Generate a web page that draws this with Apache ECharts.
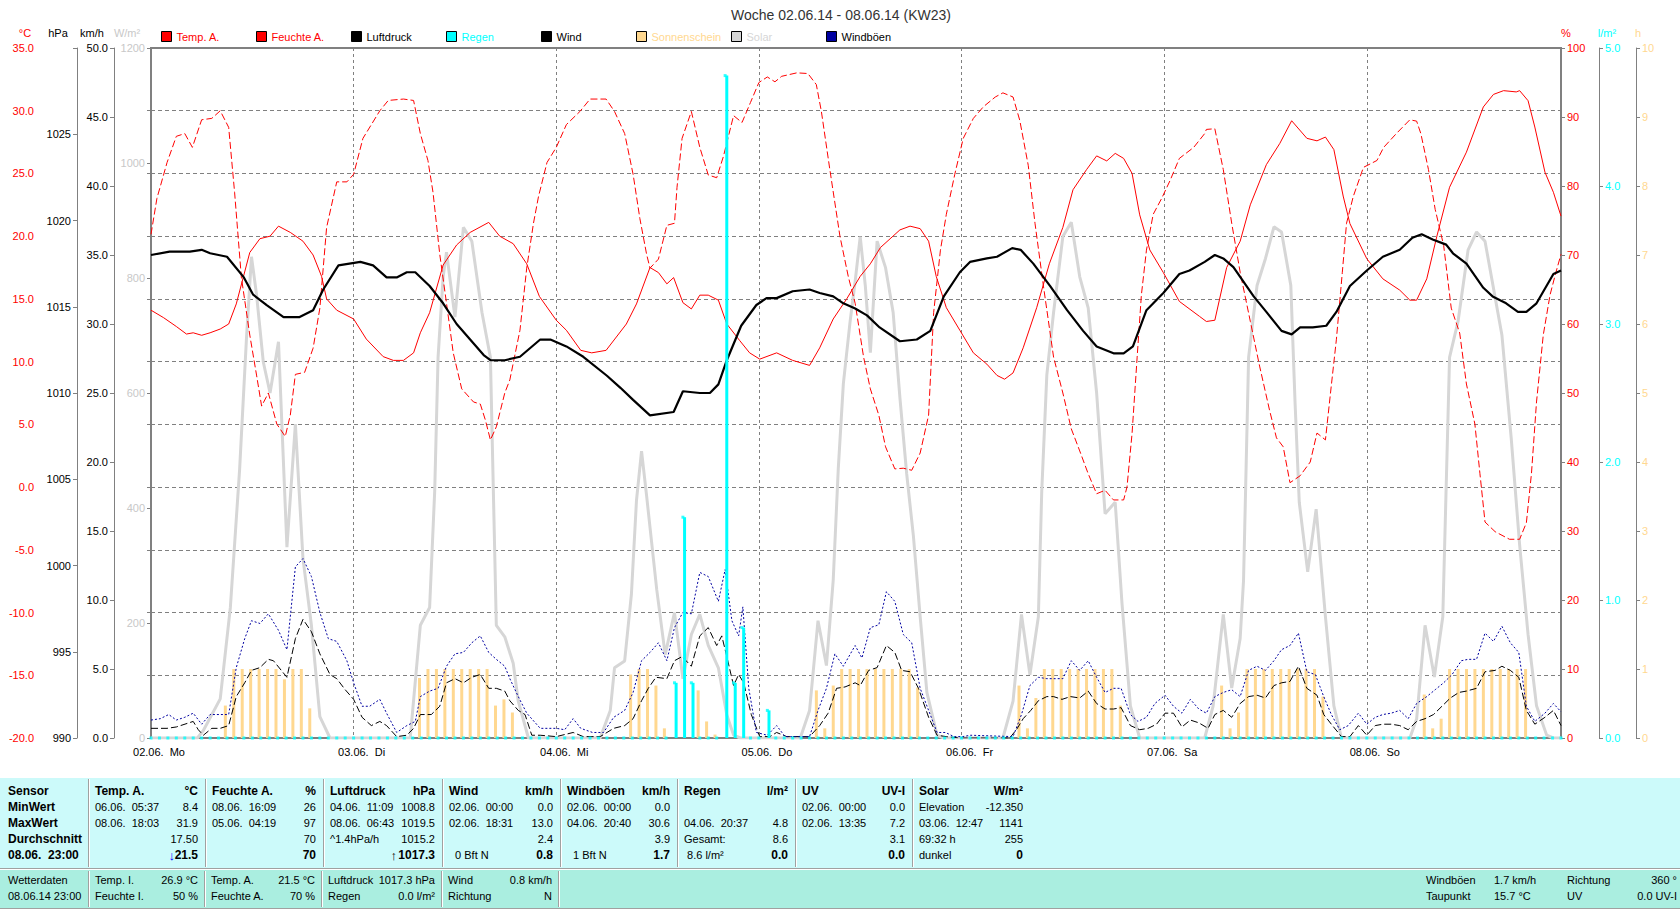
<!DOCTYPE html>
<html><head><meta charset="utf-8">
<script src="https://cdn.jsdelivr.net/npm/echarts/dist/echarts.min.js"></script>
<style>html,body{margin:0;padding:0;background:#fff}#c{width:1680px;height:909px}</style>
</head><body><div id="c"></div>
<script>
// ---------- DATA (hour since 02.06. 00:00, value) ----------
const dayLabels = ['02.06.\u00a0\u00a0Mo','03.06.\u00a0\u00a0Di','04.06.\u00a0\u00a0Mi','05.06.\u00a0\u00a0Do','06.06.\u00a0\u00a0Fr','07.06.\u00a0\u00a0Sa','08.06.\u00a0\u00a0So'];

const tempA = [[0,14.1],[1.5,13.5],[3,12.8],[4.2,12.2],[5,12.3],[6,12.1],[7,12.3],[8.2,12.6],[9.2,13.0],[10.1,14.6],[11.7,18.7],[12.9,19.8],[14.1,20.0],[15.1,20.8],[16.5,20.3],[18,19.6],[19.2,18.5],[20.2,16.8],[20.8,15.0],[22,14.1],[24,13.4],[25.5,11.8],[27.5,10.4],[28.7,10.1],[29.9,10.1],[31.1,10.7],[31.9,12.3],[33,13.9],[34.6,17.7],[36.2,19.3],[37.8,20.3],[40,21.1],[41.3,20.0],[42.9,19.4],[44.5,17.8],[46,15.2],[48,13.3],[49.2,12.5],[50.9,10.9],[52.2,10.7],[53.9,10.9],[56.3,13.0],[57.5,14.6],[59.1,17.5],[60.1,17.1],[61.1,16.2],[61.9,16.7],[63,14.7],[64,14.2],[65,15.3],[66,15.3],[67.2,14.9],[68.2,13.0],[69.7,11.7],[70.9,10.7],[72.1,10.2],[74.1,10.7],[76,10.1],[78,9.7],[79.2,11.1],[80.8,13.4],[82.4,15.0],[84,16.8],[85.2,17.8],[86.4,19.1],[88.7,20.5],[89.9,20.8],[91.1,20.6],[92.1,19.6],[93,16.8],[94.2,14.3],[95.8,12.5],[97.4,10.7],[99,9.8],[100.2,8.9],[101.1,8.6],[102.1,9.1],[103.3,11.1],[104.9,14.3],[106.4,17.8],[108,20.7],[109.2,23.7],[110.8,25.3],[112,26.4],[113.2,26.0],[114.2,26.6],[115.2,26.2],[116.2,25.0],[117.1,21.7],[118.3,18.9],[119.9,17.1],[121.8,14.8],[124.2,13.6],[125,13.2],[126,13.3],[127.4,17.5],[129,19.6],[130.2,22.5],[132.1,25.7],[133.7,27.4],[135.1,29.2],[136.9,27.8],[138.1,27.6],[139.1,27.9],[140.1,26.9],[141.2,23.2],[142,21.0],[144,18.2],[145.9,16.6],[147.9,15.7],[149.1,14.9],[149.9,14.9],[151.1,16.6],[152.3,20.0],[153.8,23.9],[155.8,26.7],[157.8,30.3],[159,31.3],[160.2,31.6],[161.7,31.5],[162.1,31.6],[163.1,30.8],[163.9,28.7],[165.1,25.1],[166.1,23.5],[167,21.6]];

const feuchteA = [[0,73.0],[0.7,78.2],[1.9,83.4],[3,87.2],[4,87.6],[4.9,85.6],[6,89.6],[7.2,89.8],[8.2,90.9],[9.2,88.5],[9.9,79.1],[10.7,66.8],[11.7,58.4],[12.5,52.6],[13.1,48.1],[13.9,50.0],[14.9,45.5],[15.9,43.7],[16.5,46.8],[17.1,52.7],[18.2,53.0],[19.2,56.5],[20,62.3],[20.8,74.0],[22,80.6],[23.2,80.6],[24,81.7],[25.1,86.9],[27.1,90.9],[28.1,92.4],[29.9,92.6],[31.1,92.4],[31.9,87.6],[32.8,83.7],[33.4,79.1],[34.2,70.1],[35,63.0],[35.8,55.8],[36.8,50.6],[38.2,48.7],[39,48.4],[39.6,46.1],[40.2,43.2],[40.9,45.1],[41.9,50.0],[42.5,51.9],[43.7,59.1],[44.5,68.1],[45.3,74.6],[45.9,78.5],[46.9,83.4],[48,85.6],[49.2,88.9],[50.8,90.8],[52,92.6],[53.9,92.6],[54.9,90.8],[56.1,87.6],[57.1,81.7],[57.9,75.3],[58.7,70.1],[59.1,68.1],[60.1,69.4],[61.1,74.3],[62,74.6],[62.3,79.8],[62.9,86.9],[64,90.8],[65,85.6],[66,81.6],[67,81.2],[67.8,84.3],[69,90.2],[70,89.2],[71,92.1],[72,95.0],[73,95.8],[73.9,95.1],[74.7,95.9],[76.5,96.4],[77.8,96.3],[78.8,94.7],[79.4,90.8],[80.4,82.4],[81.6,72.7],[82.6,66.8],[83.4,63.0],[84.4,55.2],[85.2,50.6],[86.2,46.8],[87,42.2],[88.1,39.0],[89.1,39.1],[90.1,38.8],[91.1,41.3],[92.1,46.8],[92.7,61.7],[93.5,70.7],[94.2,75.9],[95.2,81.7],[96.2,86.9],[97.4,89.8],[98.6,91.5],[100,92.9],[100.9,93.5],[102.1,92.9],[102.9,89.5],[103.9,83.0],[104.7,74.6],[105.7,65.5],[106.9,55.2],[108,50.0],[109,44.8],[110,41.6],[111,38.3],[112,35.4],[113,35.9],[114,34.5],[115.2,34.5],[115.6,36.4],[116.2,44.2],[116.8,55.2],[117.3,64.2],[117.9,70.7],[118.7,75.9],[119.7,78.2],[120.7,80.8],[121.8,84.0],[123.5,85.6],[124.8,87.6],[125,88.2],[126,88.3],[127,82.4],[128,74.6],[129,67.5],[130.2,60.4],[131.3,53.9],[132.5,47.4],[133.3,43.5],[134.1,42.2],[134.9,37.0],[136.1,38.0],[137.3,40.0],[138.1,44.2],[139.1,43.2],[139.7,50.0],[140.4,57.8],[141.1,67.5],[141.6,74.6],[142.4,78.5],[143.6,82.7],[145.2,83.7],[146,85.6],[147.5,87.6],[149.1,89.6],[149.9,89.4],[150.4,87.6],[151.3,82.4],[152.1,76.6],[153.1,71.4],[154,62.3],[155,58.7],[155.8,51.3],[156.8,45.5],[157.4,38.3],[158,31.3],[159.2,29.9],[160.9,28.8],[162.1,28.8],[162.9,31.2],[163.5,38.3],[164.1,48.7],[164.9,58.4],[165.7,64.2],[166.4,67.5],[167,70.1]];

const luftdruck = [[0,1018.0],[2.2,1018.2],[4.6,1018.2],[6,1018.3],[7,1018.1],[9,1017.9],[11,1016.7],[12.1,1015.7],[13.7,1015.1],[15.7,1014.4],[17.6,1014.4],[19.2,1014.8],[20.4,1016.0],[22.2,1017.4],[24.8,1017.6],[26.3,1017.4],[27.9,1016.7],[29.1,1016.7],[30.3,1017.0],[31.3,1017.0],[33,1016.2],[34.6,1015.2],[36.2,1014.0],[37.8,1013.1],[39.4,1012.2],[40.2,1011.9],[41.9,1011.9],[43.7,1012.1],[46.1,1013.1],[47.3,1013.1],[49.2,1012.7],[51.2,1012.1],[54,1011.0],[55.6,1010.3],[57.1,1009.6],[59.1,1008.7],[61.9,1008.9],[63,1010.1],[65,1010.0],[66.2,1010.0],[67.2,1010.5],[68.2,1011.9],[69.9,1013.9],[71.7,1015.1],[72.9,1015.5],[74.1,1015.5],[76,1015.9],[78,1016.0],[79.2,1015.8],[80.8,1015.6],[82,1015.2],[83.4,1014.9],[84.8,1014.5],[86.3,1013.8],[88.7,1013.0],[90.7,1013.1],[92.3,1013.6],[93.9,1015.6],[95.8,1017.0],[97,1017.6],[99,1017.8],[100.2,1017.9],[102,1018.4],[103,1018.3],[104.5,1017.5],[106.5,1016.2],[108.5,1014.8],[110.4,1013.6],[112,1012.7],[114,1012.3],[115.2,1012.3],[116.3,1012.7],[117.9,1014.8],[119.9,1015.8],[121.8,1016.9],[123,1017.1],[124.8,1017.6],[126,1018.0],[127,1017.8],[128.2,1017.3],[130.6,1015.6],[132.1,1014.7],[133.9,1013.6],[135.1,1013.4],[136.1,1013.8],[137.6,1013.8],[139.2,1013.9],[140.4,1014.7],[142,1016.2],[144,1017.1],[145.9,1017.9],[147.9,1018.3],[149.4,1019.0],[150.5,1019.2],[151.8,1018.9],[153.4,1018.6],[154.2,1018.1],[155.8,1017.5],[157.8,1016.1],[158.9,1015.6],[160.5,1015.2],[161.9,1014.7],[162.9,1014.7],[164.1,1015.2],[166.1,1016.9],[167,1017.1]];

const wind = [[0,0.7],[1.9,0.7],[3,0.8],[5,1.2],[5.6,0.6],[6.2,0.2],[7.2,0.7],[8.2,0.7],[9.2,0.9],[10.1,3.0],[11.1,4.0],[11.9,4.9],[12.9,5.1],[13.9,5.7],[14.5,5.6],[16.1,4.4],[17.1,7.2],[18,8.6],[19,7.7],[20,6.1],[21.2,4.6],[22,4.3],[23,3.5],[24,2.8],[25,1.5],[26.1,0.9],[27.1,1.2],[27.9,0.9],[29.1,0.1],[30.3,0.2],[31.1,0.7],[31.9,1.7],[33.2,1.7],[34.2,2.3],[35,4.0],[36,4.3],[37,4.0],[38,4.4],[39,4.6],[40,3.6],[40.9,3.6],[41.9,3.4],[42.5,2.7],[43.5,2.0],[44.3,1.7],[45.1,0.2],[46.1,0.2],[48,0.1],[50,0.4],[51.2,0.1],[53.2,0.1],[54.8,0.7],[56.1,0.9],[57.1,1.4],[58.1,2.7],[58.9,3.6],[59.8,4.4],[61.1,4.3],[62,5.6],[62.9,5.9],[64,5.2],[65,7.4],[66,8.0],[67,6.7],[67.6,7.4],[68.2,5.9],[69,3.8],[69.6,4.6],[70.2,4.0],[71.1,1.7],[72.1,0.1],[73.3,0.1],[74.1,0.4],[75.3,0.1],[78,0.1],[79.2,0.9],[80.2,1.8],[81.2,3.6],[82.2,3.7],[83.4,4.0],[84,3.8],[85,4.9],[86,5.1],[87.1,6.7],[88.1,6.2],[88.9,4.9],[89.9,4.8],[90.9,3.6],[92.1,1.5],[93.1,0.2],[94.2,0.1],[95.8,0],[101.7,0],[102.5,0.6],[103.3,1.4],[104.2,2.0],[105.1,2.7],[106.1,3.0],[106.9,3.0],[107.9,2.8],[108.9,3.0],[110,2.9],[111,3.4],[112,2.5],[113,2.1],[114,2.1],[114.9,2.2],[116,0.9],[117.1,0.6],[118.1,0.7],[119.1,1.0],[120.1,1.8],[121.1,1.8],[122.1,0.8],[123.1,1.3],[124.1,1.1],[125.2,0.7],[126,1.7],[127,2.0],[128,1.5],[129,2.5],[130,3.0],[131,3.1],[132,2.9],[133,3.8],[133.9,4.0],[134.9,4.1],[135.9,5.2],[136.9,3.6],[138.1,3.1],[138.9,1.7],[139.8,1.0],[141,0.1],[142,0.1],[143,0.9],[144,0.2],[145,0.9],[145.9,1.0],[146.9,1.0],[147.9,0.9],[148.9,0.6],[149.9,1.2],[150.9,1.4],[151.9,1.7],[152.9,2.3],[153.9,2.9],[154.9,3.3],[155.8,3.4],[157,3.6],[158,4.8],[159.2,4.9],[160,5.2],[161,4.9],[162,4.4],[162.9,2.0],[163.9,1.0],[165.1,1.5],[166.1,2.0],[167,0.9]];

const windboeen = [[0,1.3],[1.1,1.4],[2.1,1.7],[3,1.3],[4,1.5],[5,1.8],[6,1.0],[7,1.7],[8.2,1.7],[9.2,1.7],[10.1,5.1],[11.1,7.2],[11.9,8.5],[12.9,8.3],[13.9,9.0],[15.1,7.8],[16.1,6.4],[17.1,12.4],[18,13.0],[19,11.7],[20,9.1],[21,7.2],[22,7.0],[23.2,5.6],[24,4.0],[25,2.3],[25.9,2.3],[27.1,2.8],[27.9,1.8],[29.1,0.4],[30.3,0.9],[31.3,1.2],[31.9,3.0],[33,3.4],[34,3.6],[35,5.2],[36,6.1],[37,6.2],[38,6.9],[39,7.4],[40,6.2],[40.9,5.7],[41.9,5.2],[42.5,4.3],[43.5,3.0],[44.5,1.8],[46.1,0.7],[48,0.7],[49,0.6],[50,1.4],[50.9,0.7],[52.3,0.4],[53.6,0.4],[54.8,1.5],[56.1,2.0],[57.1,3.3],[58.1,5.6],[59.1,6.2],[60.1,6.9],[61.1,5.6],[62,8.0],[63,9.1],[64,9.0],[65,12.0],[66,11.7],[67.2,9.9],[68,12.2],[68.8,8.5],[69.6,7.4],[70.1,9.5],[70.8,3.6],[71.7,0.4],[73,0.2],[74.1,0.9],[75.1,0.1],[78,0.1],[79,2.0],[80,3.6],[81,6.1],[82,5.2],[83.4,6.7],[84.2,5.8],[85.2,8.0],[86.2,8.2],[87.1,10.6],[88.1,9.9],[89.1,7.5],[90.1,6.9],[91.1,3.6],[92.1,2.0],[93.1,0.4],[94.1,0.4],[95.1,0.1],[96.1,0.1],[97.1,0.2],[102.1,0.1],[103.1,1.7],[104.1,3.8],[105.1,4.4],[106.1,4.3],[107.1,4.3],[108,4.3],[109,5.6],[110,4.9],[111,5.6],[112,4.4],[113,3.3],[114,3.6],[114.9,3.6],[116,1.7],[116.9,1.2],[117.9,1.5],[118.9,2.5],[120.1,3.1],[121.1,2.3],[122.1,1.8],[123.1,2.8],[124.1,2.1],[125,1.8],[126,3.0],[127,3.3],[128,3.5],[129,3.0],[130,4.9],[131,5.2],[132,4.9],[133,5.6],[133.9,6.4],[134.9,6.7],[135.9,7.6],[136.9,4.8],[137.9,4.6],[138.9,3.0],[139.8,1.7],[140.8,0.6],[141.8,0.9],[143,1.8],[144,1.0],[145,1.5],[145.9,1.7],[146.9,1.8],[147.9,2.0],[148.9,1.4],[149.9,2.5],[151.1,3.0],[152.1,3.5],[153.1,4.0],[154.1,4.6],[155.2,5.6],[156,5.7],[157,5.7],[158,7.6],[159,7.0],[160,8.1],[161,6.9],[162,6.2],[162.9,2.3],[163.9,1.2],[165.1,1.8],[166.1,2.5],[167,1.9]];

const solar = [[0,0],[5.5,0],[6.2,13],[8.2,68],[9.4,227],[10.5,468],[11.3,693],[11.9,837],[12.5,771],[13.3,654],[14.1,600],[15.1,689],[16.1,332],[17.1,546],[18,312],[19,196],[20,37],[21.2,0],[30.7,0],[31.9,196],[33,227],[33.6,429],[34,662],[34.6,802],[35,845],[36,732],[37,888],[38,864],[39.2,740],[40.2,662],[40.9,196],[41.9,176],[42.9,130],[43.5,64],[44.7,0],[53.2,0],[54.4,48],[54.9,122],[56.1,134],[56.9,250],[57.5,413],[58.1,499],[58.7,421],[59.9,258],[60.9,145],[62,218],[63,103],[64,180],[65,215],[66,161],[67.2,122],[68.2,40],[69,5],[69.8,0],[76.9,0],[78,48],[79,204],[80,126],[80.8,274],[81.4,468],[82,616],[82.8,724],[83.4,794],[84,872],[84.6,787],[85.2,670],[86,864],[87,818],[87.9,740],[88.7,592],[89.5,460],[90.3,351],[91.1,211],[91.9,79],[93.1,5],[93.9,0],[100.9,0],[102.1,64],[103.1,215],[104.1,110],[105.1,211],[105.5,429],[106.1,631],[106.9,740],[108,872],[109,897],[110,802],[111,748],[112,600],[113,390],[114.2,410],[115,235],[116,56],[117.1,0],[124.8,0],[125.8,56],[127,215],[128,87],[129,173],[129.4,274],[130,662],[131,787],[132,834],[133,889],[133.9,880],[135,787],[135.5,584],[136,410],[137,289],[138,398],[139.1,211],[140.1,56],[141,0],[149.1,0],[149.9,33],[150.9,196],[152,106],[153,211],[153.8,662],[154.8,724],[156,849],[157,880],[158,864],[160,701],[161.1,522],[162.1,336],[163.1,180],[164.1,56],[165.3,5],[166.1,0],[167,0]];

const sonnenschein = [[9,0.47],[10,1],[11,1],[12,1],[13,1],[14,1],[15,1],[16,0.85],[17,1],[18,1],[19,0.43],
 [32,0.87],[33,1],[34,1],[35,1],[36,1],[37,1],[38,1],[39,1],[40,1],[41,0.47],[42,0.56],[43,0.37],
 [57,0.92],[58,1],[59,1],[60,0.76],[61,0.14],[65,0.69],[66,0.24],[67,0.05],
 [79,0.69],[80,0.14],[81,0.76],[82,1],[83,1],[84,1],[85,1],[86,1],[87,1],[88,1],[89,1],[90,1],[91,0.73],
 [103,0.76],[104,0.14],[105,0.58],[106,1],[107,1],[108,1],[109,1],[110,1],[111,1],[112,1],[113,1],[114,1],[115,0.47],
 [127,0.76],[128,0.14],[129,0.37],[130,1],[131,1],[132,1],[133,1],[134,1],[135,1],[136,1],[137,1],[138,1],[139,0.6],
 [151,0.63],[152,0.14],[153,0.28],[154,1],[155,1],[156,1],[157,1],[158,1],[159,1],[160,1],[161,1],[162,1],[163,1]];

const regen = [[62,0.4],[63,1.6],[64,0.4],[68,4.8],[69,0.4],[70,0.8],[73,0.2]];

const tempTicks = {min:-20, max:35, step:5};
const pressTicks = {min:990, max:1030, step:5};
const windTicks = {min:0, max:50, step:5};
const solarTicks = {min:0, max:1200, step:200};
const humTicks = {min:0, max:100, step:10};
const rainTicks = {min:0, max:5, step:1};
const sunTicks = {min:0, max:10, step:1};

// table texts
const statRowNames = ['Sensor','MinWert','MaxWert','Durchschnitt','08.06.\u00a0\u00a023:00'];
const statCols = [
 ['Temp. A.','°C', ['06.06.\u00a0\u00a005:37','8.4'], ['08.06.\u00a0\u00a018:03','31.9'], ['','17.50'], ['','21.5']],
 ['Feuchte A.','%', ['08.06.\u00a0\u00a016:09','26'], ['05.06.\u00a0\u00a004:19','97'], ['','70'], ['','70']],
 ['Luftdruck','hPa', ['04.06.\u00a0\u00a011:09','1008.8'], ['08.06.\u00a0\u00a006:43','1019.5'], ['^1.4hPa/h','1015.2'], ['','1017.3']],
 ['Wind','km/h', ['02.06.\u00a0\u00a000:00','0.0'], ['02.06.\u00a0\u00a018:31','13.0'], ['','2.4'], ['\u00a0\u00a00 Bft N','0.8']],
 ['Windböen','km/h', ['02.06.\u00a0\u00a000:00','0.0'], ['04.06.\u00a0\u00a020:40','30.6'], ['','3.9'], ['\u00a0\u00a01 Bft N','1.7']],
 ['Regen','l/m²', ['',''], ['04.06.\u00a0\u00a020:37','4.8'], ['Gesamt:','8.6'], ['\u00a08.6 l/m²','0.0']],
 ['UV','UV-I', ['02.06.\u00a0\u00a000:00','0.0'], ['02.06.\u00a0\u00a013:35','7.2'], ['','3.1'], ['','0.0']],
 ['Solar','W/m²', ['Elevation','-12.350'], ['03.06.\u00a0\u00a012:47','1141'], ['69:32 h','255'], ['dunkel','0']]
];
const curCols = [
 ['Temp. I.','26.9 °C','Feuchte I.','50 %'],
 ['Temp. A.','21.5 °C','Feuchte A.','70 %'],
 ['Luftdruck','1017.3 hPa','Regen','0.0 l/m²'],
 ['Wind','0.8 km/h','Richtung','N']
];
const curRight = [['Windböen','1.7 km/h','Richtung','360 °'],['Taupunkt','15.7 °C','UV','0.0 UV-I']];

// ---------- LAYOUT / STYLE ----------
const FF = '"Liberation Sans", Arial, sans-serif';
const G = {left:151, top:48, width:1410, height:690};
const RED='#ff0000', CYAN='#00ffff', SUNC='#ffd890', SOLC='#d6d6d6', GRAY='#808080';

function yAxis(t, pos, offset, color, fmt, extra){
  return Object.assign({
    type:'value', position:pos, offset:offset, min:t.min, max:t.max, interval:t.step,
    axisLine:{show:true, lineStyle:{color:GRAY, width:1}},
    axisTick:{show:true, length:4, lineStyle:{color:GRAY}},
    axisLabel:{color:color, fontSize:11, fontFamily:FF, margin:6, formatter:fmt, showMinLabel:true, showMaxLabel:true, hideOverlap:false},
    splitLine:{show:false}
  }, extra||{});
}

const rainHourly = Array.from({length:168},(_,h)=>{const f=regen.find(p=>p[0]===h);return [h,f?f[1]:0];});

const legendItems = [['Temp. A.',RED],['Feuchte A.',RED],['Luftdruck','#000'],['Regen',CYAN],['Wind','#000'],['Sonnenschein',SUNC],['Solar',SOLC],['Windböen','#000']];

function T(x,y,text,o){
  o=o||{};
  const al=o.align||'left';
  return {type:'text', x:x, y:y, silent:true, z:10, style:{text:text, fill:o.color||'#000',
    font:(o.bold?'bold ':'')+(o.size||11)+'px '+FF, align:al, textAlign:al, verticalAlign:'middle', textVerticalAlign:'middle'}};
}
function R(x,y,w,h,fill){return {type:'rect', silent:true, z:1, shape:{x:x,y:y,width:w,height:h}, style:{fill:fill}};}
function L(x1,y1,x2,y2,c){return {type:'line', silent:true, z:2, shape:{x1:x1,y1:y1,x2:x2,y2:y2}, style:{stroke:c,lineWidth:1}};}

const gfx = [];
gfx.push(T(841,15,'Woche 02.06.14 - 08.06.14 (KW23)',{align:'center',size:14,color:'#333'}));
[['°C',25,RED],['hPa',58,'#000'],['km/h',92,'#000'],['W/m²',127,'#c8c8c8'],['%',1566,RED],['l/m²',1607,CYAN],['h',1638,SUNC]]
  .forEach(u=>gfx.push(T(u[1],33,u[0],{align:'center',color:u[2]})));

// table panel 1
gfx.push(R(0,778,1680,90,'#ccfafa'));
gfx.push(R(0,870,1680,38,'#aaeee0'));
gfx.push(L(0,868.5,1680,868.5,'#a0a0a0'));
gfx.push(L(0,869.5,1680,869.5,'#ffffff'));
gfx.push(L(0,908.5,1680,908.5,'#a0a0a0'));
const seps1=[88,205,323,442,560,677,795,912];
seps1.forEach(x=>{gfx.push(L(x+0.5,779,x+0.5,867,'#a0a0a0'));gfx.push(L(x+1.5,779,x+1.5,867,'#ffffff'));});
const seps2=[88,204,321,441,558];
seps2.forEach(x=>{gfx.push(L(x+0.5,871,x+0.5,907,'#a0a0a0'));gfx.push(L(x+1.5,871,x+1.5,907,'#ffffff'));});
const rowsY=[791,807,823,839,855];
statRowNames.forEach((n,i)=>gfx.push(T(8,rowsY[i],n,{bold:true,size:12})));
statCols.forEach((c,i)=>{
  const l=seps1[i]+7, r=(i<7?seps1[i+1]:1030)-7;
  gfx.push(T(l,rowsY[0],c[0],{bold:true,size:12}));
  gfx.push(T(r,rowsY[0],c[1],{bold:true,size:12,align:'right'}));
  for(let k=0;k<4;k++){
    const row=c[2+k];
    if(row[0]) gfx.push(T(l,rowsY[k+1],row[0]));
    if(row[1]) gfx.push(T(r,rowsY[k+1],row[1],{align:'right',bold:k===3,size:k===3?12:11}));
  }
});
gfx.push(T(175,rowsY[4],'↓',{align:'right',bold:true,size:13,color:'#0000ff'}));
gfx.push(T(397,rowsY[4],'↑',{align:'right',bold:true,size:13,color:'#000'}));
// panel 2
const rows2=[880,896];
gfx.push(T(8,rows2[0],'Wetterdaten'));
gfx.push(T(8,rows2[1],'08.06.14 23:00'));
curCols.forEach((c,i)=>{
  const l=seps2[i]+7, r=seps2[i+1]-6;
  gfx.push(T(l,rows2[0],c[0])); gfx.push(T(r,rows2[0],c[1],{align:'right'}));
  gfx.push(T(l,rows2[1],c[2])); gfx.push(T(r,rows2[1],c[3],{align:'right'}));
});
curRight.forEach((c,i)=>{
  gfx.push(T(1426,rows2[i],c[0])); gfx.push(T(1494,rows2[i],c[1]));
  gfx.push(T(1567,rows2[i],c[2])); gfx.push(T(1677,rows2[i],c[3],{align:'right'}));
});

const chart = echarts.init(document.getElementById('c'), null, {renderer:'svg', width:1680, height:909});
chart.setOption({
  backgroundColor:'#ffffff',
  animation:false,
  textStyle:{fontFamily:FF},
  grid:{left:G.left, top:G.top, width:G.width, height:G.height, show:true, borderColor:GRAY, borderWidth:2, backgroundColor:'#fff', containLabel:false, outerBoundsMode:'none'},
  legend: legendItems.map((it,i)=>({
    data:[it[0]], left:161+95*i, top:31, padding:0, itemWidth:10, itemHeight:10, icon:'rect', selectedMode:false,
    itemStyle:{borderColor:'#000', borderWidth:1},
    textStyle:{color:it[1], fontSize:11, fontFamily:FF}
  })),
  xAxis:{type:'value', min:0, max:167, interval:24,
    axisLine:{show:false}, axisTick:{show:true, length:4, lineStyle:{color:GRAY}},
    splitLine:{show:true, lineStyle:{color:GRAY, type:[3,3], width:1}},
    axisLabel:{color:'#000', fontSize:11, fontFamily:FF, margin:8, padding:[0,0,0,16], showMaxLabel:false,
      formatter:v=> (v%24===0 && dayLabels[v/24]) ? dayLabels[v/24] : ''}},
  yAxis:[
    yAxis(tempTicks,'left',111,RED,v=>v.toFixed(1),{splitLine:{show:true, lineStyle:{color:GRAY, type:[4,3]}}}),
    yAxis(pressTicks,'left',74,'#000',v=> v===1030?'':String(v)),
    yAxis(windTicks,'left',37,'#000',v=>v.toFixed(1)),
    yAxis(solarTicks,'left',0,'#c8c8c8',v=>String(v),{axisLine:{show:false}}),
    yAxis(humTicks,'right',0,RED,v=>String(v),{axisLine:{show:false}}),
    yAxis(rainTicks,'right',38,CYAN,v=>v.toFixed(1)),
    yAxis(sunTicks,'right',75,SUNC,v=>String(v))
  ],
  series:[
    {name:'Solar', type:'line', yAxisIndex:3, data:solar, showSymbol:false, symbol:'none', color:SOLC, lineStyle:{color:SOLC, width:3}, z:1},
    {name:'Sonnenschein', type:'bar', yAxisIndex:6, data:sonnenschein, barWidth:3, color:SUNC, itemStyle:{color:SUNC}, z:2},
    {name:'Temp. A.', type:'line', yAxisIndex:0, data:tempA, symbol:'none', color:RED, lineStyle:{color:RED, width:1}, z:3},
    {name:'Feuchte A.', type:'line', yAxisIndex:4, data:feuchteA, symbol:'none', color:RED, lineStyle:{color:RED, width:1, type:[7,3]}, z:3},
    {name:'Luftdruck', type:'line', yAxisIndex:1, data:luftdruck, symbol:'none', color:'#000', lineStyle:{color:'#000', width:2.2}, z:4},
    {name:'Wind', type:'line', yAxisIndex:2, data:wind, symbol:'none', color:'#000', lineStyle:{color:'#000', width:1, type:[7,3]}, z:4},
    {name:'Windböen', type:'line', yAxisIndex:2, data:windboeen, symbol:'none', color:'#0000a0', lineStyle:{color:'#0000a0', width:1, type:[2,2]}, z:4},
    {name:'Regen', type:'bar', yAxisIndex:5, data:regen, barWidth:3, color:CYAN, itemStyle:{color:CYAN}, z:5},
    {name:'RegenPunkte', type:'scatter', yAxisIndex:5, data:rainHourly, symbol:'rect', symbolSize:3, itemStyle:{color:CYAN}, silent:true, z:5}
  ],
  graphic:{elements:gfx}
});
</script></body></html>
